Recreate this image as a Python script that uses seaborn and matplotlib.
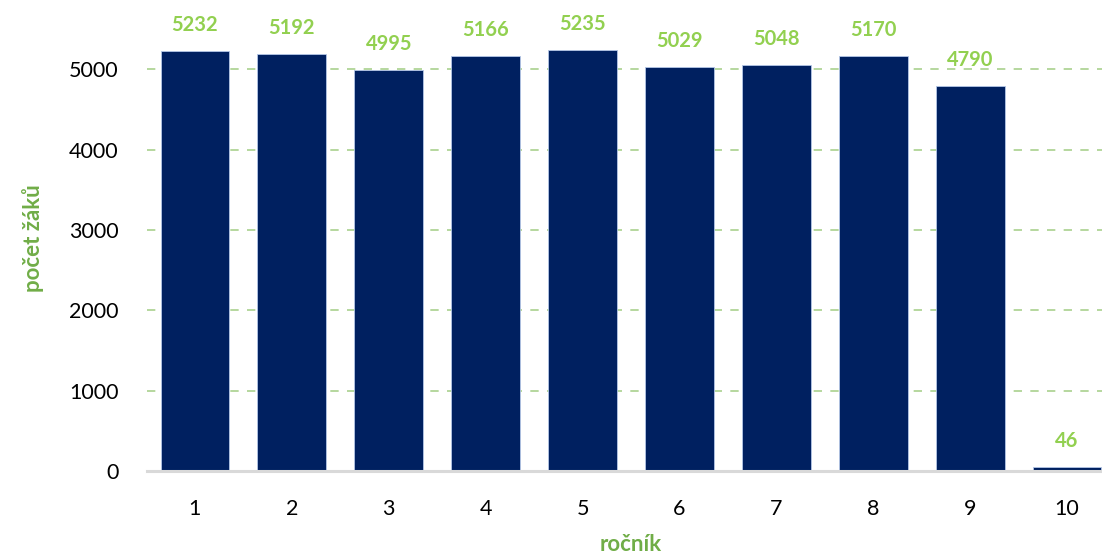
import numpy as np
import pandas as pd
import matplotlib
matplotlib.use("Agg")
import matplotlib.pyplot as plt
import seaborn as sns

# data
rocnik = ["1", "2", "3", "4", "5", "6", "7", "8", "9", "10"]
pocet_zaku = [5232, 5192, 4995, 5166, 5235, 5029, 5048, 5170, 4790, 46]

df = pd.DataFrame({"rocnik": rocnik, "pocet": pocet_zaku})

sns.set_theme(style="white")
plt.rcParams['font.family'] = ['Lato', 'DejaVu Sans']

fig = plt.figure(figsize=(11.02, 5.56), dpi=100)
ax = fig.add_axes([146.5 / 1102, 85 / 556, 969 / 1102, 466 / 556])

sns.barplot(data=df, x="rocnik", y="pocet", color="#002060", width=0.71,
            saturation=1, edgecolor="#B4C7E7", linewidth=0.6, ax=ax, zorder=3)

ax.set_ylim(0, 5800)
ax.set_yticks([0, 1000, 2000, 3000, 4000, 5000])
ax.yaxis.grid(True, color="#A9D18E", linestyle=(0, (5, 5)), linewidth=1.2, zorder=0)
ax.set_axisbelow(True)

for s in ["top", "right", "left"]:
    ax.spines[s].set_visible(False)
ax.spines["bottom"].set_color("#D9D9D9")
ax.spines["bottom"].set_linewidth(2.2)
ax.spines["bottom"].set_zorder(4)

ax.tick_params(axis="both", length=0, labelsize=15.5, colors="black")
ax.tick_params(axis="y", pad=20)
ax.tick_params(axis="x", pad=20)

for i, v in enumerate(pocet_zaku):
    ax.text(i, v + 200, str(v), ha="center", va="bottom", color="#92D050",
            fontsize=14.5, fontweight="bold")

ax.set_xlabel("ročník", color="#70AD47", fontsize=16, fontweight="bold", labelpad=11)
ax.set_ylabel("počet žáků", color="#70AD47", fontsize=16, fontweight="bold", labelpad=18)

fig.savefig("out.png", dpi=100)
